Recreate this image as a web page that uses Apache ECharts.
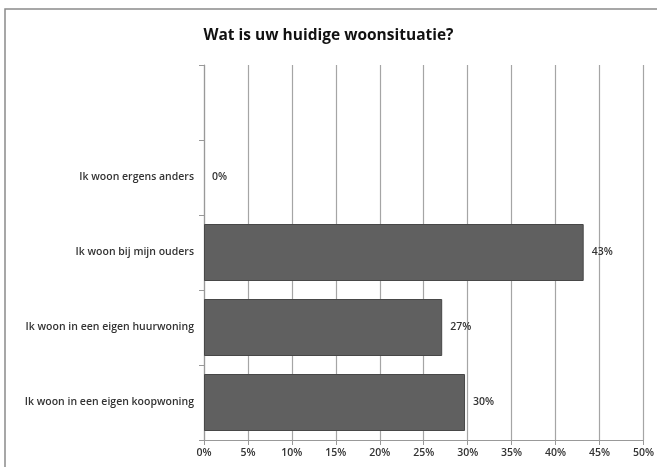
<!DOCTYPE html>
<html>
<head>
<meta charset="utf-8">
<script src="https://cdn.jsdelivr.net/npm/echarts@6/dist/echarts.min.js"></script>
<style>
html,body{margin:0;padding:0;background:#fff;}
#c{width:657px;height:467px;}
</style>
</head>
<body>
<div id="c"></div>
<script>
const categories = ['', 'Ik woon ergens anders', 'Ik woon bij mijn ouders', 'Ik woon in een eigen huurwoning', 'Ik woon in een eigen koopwoning'];
const values = [null, 0, 43.2, 27.1, 29.7];
const xTicks = [0, 5, 10, 15, 20, 25, 30, 35, 40, 45, 50];

const barData = values.map(v => (v === 0 ? {value: v, itemStyle: {borderWidth: 0}} : v));

const chart = echarts.init(document.getElementById('c'));
chart.setOption({
  animation: false,
  title: {
    text: 'Wat is uw huidige woonsituatie?',
    left: 'center',
    top: 23,
    textStyle: {fontFamily: 'Open Sans', fontWeight: 'bold', fontSize: 15.5, color: '#111'}
  },
  graphic: [{
    type: 'rect',
    shape: {x: 5, y: 9, width: 700, height: 500},
    style: {fill: 'none', stroke: '#8a8a8a', lineWidth: 1.5},
    silent: true
  }],
  grid: {left: 204, right: 11, top: 65, bottom: 27, containLabel: false},
  xAxis: {
    type: 'value',
    min: xTicks[0],
    max: xTicks[xTicks.length - 1],
    interval: 5,
    axisLine: {show: true, lineStyle: {color: '#999', width: 1.2}},
    axisTick: {show: true, length: 5, lineStyle: {color: '#999'}},
    axisLabel: {formatter: v => v + '%', fontFamily: 'Open Sans', fontSize: 10.5, fontWeight: 600, color: '#333', margin: 8},
    splitLine: {show: true, lineStyle: {color: '#a5a5a5', width: 1.2}}
  },
  yAxis: {
    type: 'category',
    data: categories,
    inverse: true,
    axisLine: {show: true, lineStyle: {color: '#999', width: 1.2}},
    axisTick: {show: true, length: 5, lineStyle: {color: '#999'}},
    axisLabel: {fontFamily: 'Open Sans', fontSize: 10.5, fontWeight: 600, color: '#333', margin: 10}
  },
  series: [{
    type: 'bar',
    data: barData,
    barCategoryGap: '24%',
    itemStyle: {color: '#606060', borderColor: '#474747', borderWidth: 1},
    label: {
      show: true,
      position: 'right',
      distance: 8,
      formatter: p => Math.round(p.value) + '%',
      fontFamily: 'Open Sans',
      fontSize: 10.5,
      fontWeight: 600,
      color: '#333'
    }
  }]
});
</script>
</body>
</html>
